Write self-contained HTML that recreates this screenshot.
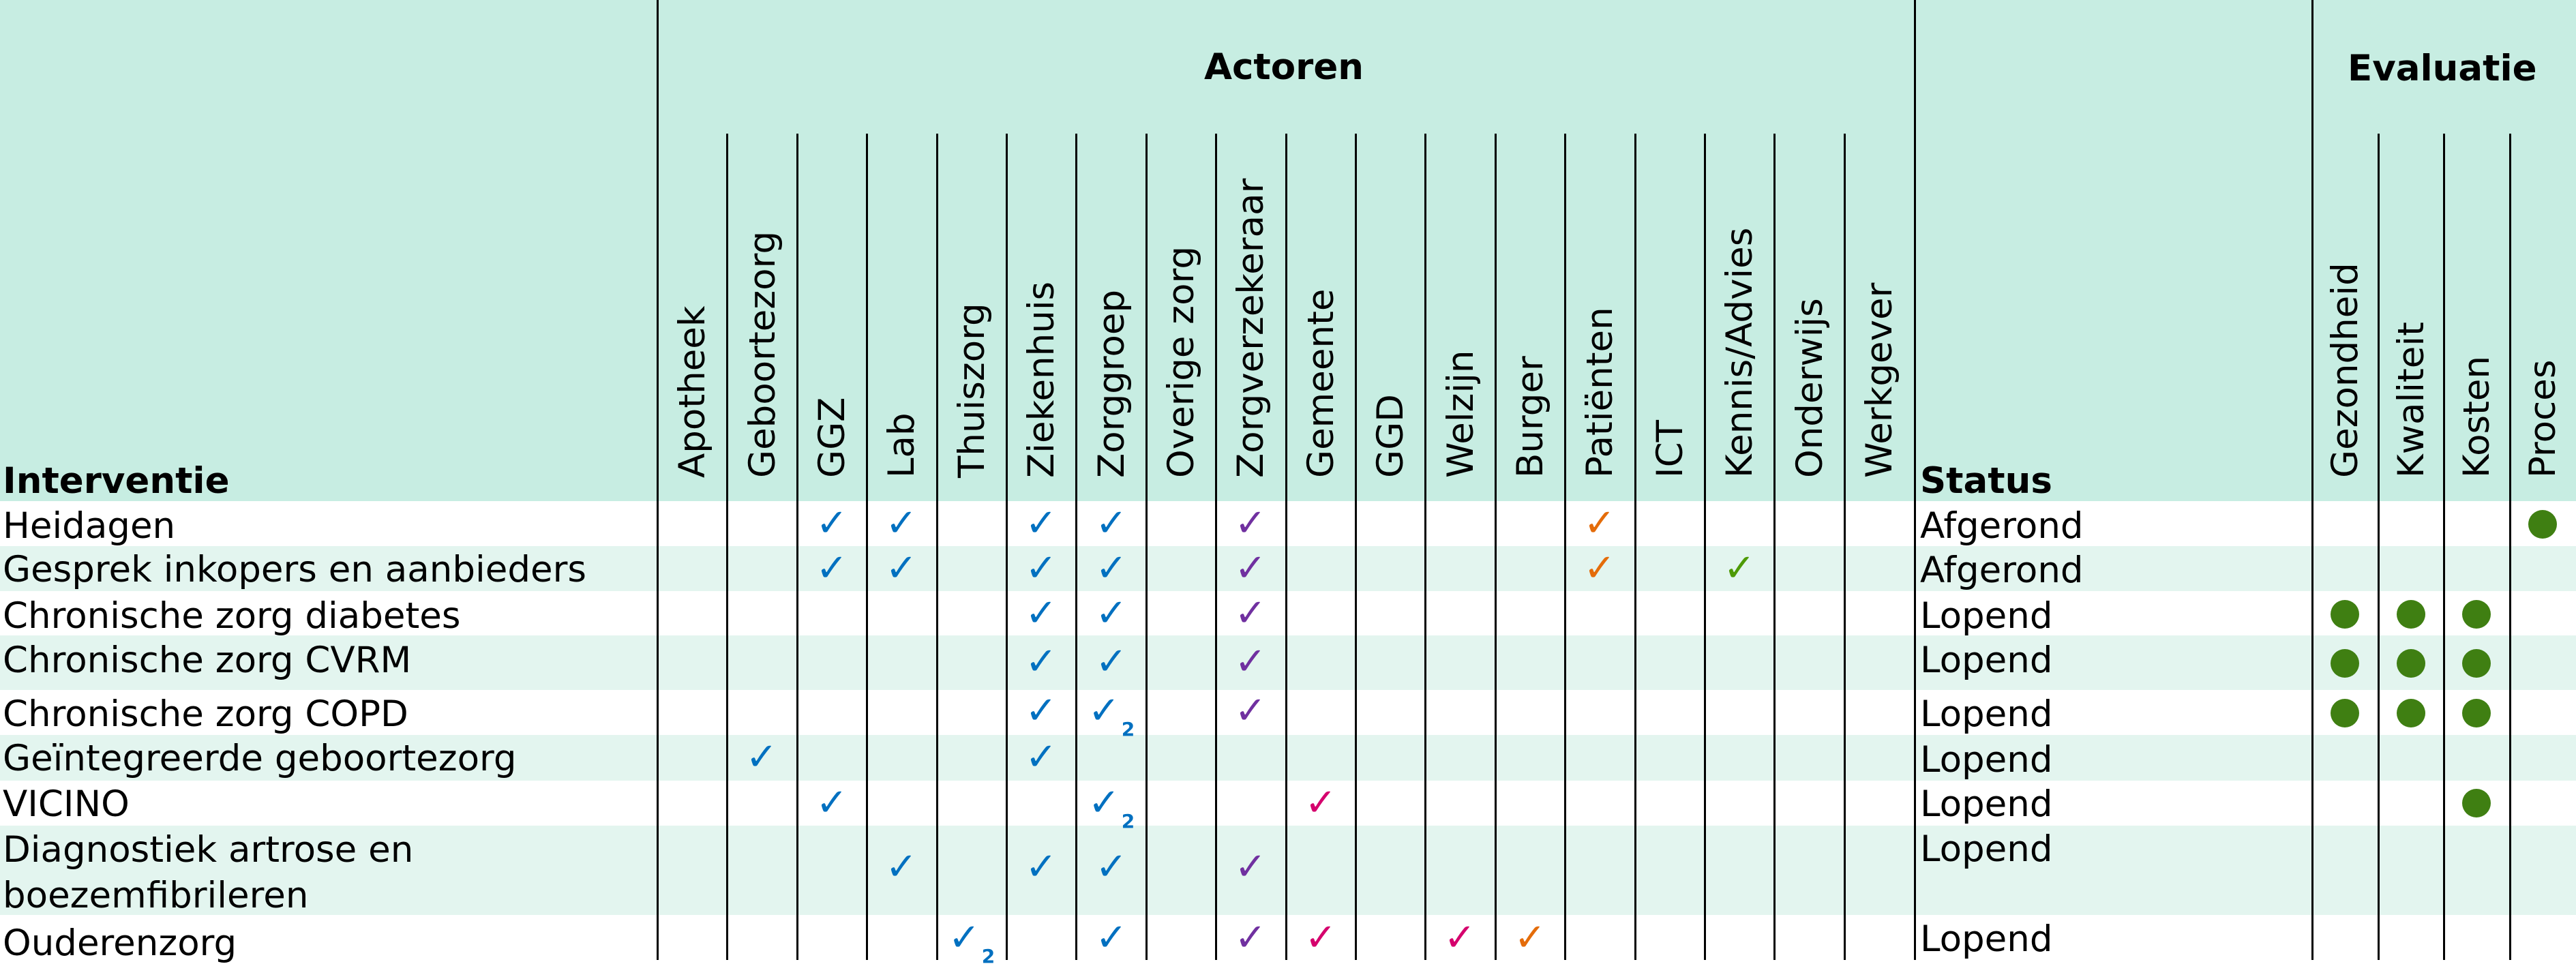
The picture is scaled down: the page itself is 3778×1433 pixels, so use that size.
<!DOCTYPE html>
<html><head><meta charset="utf-8"><style>
html,body{margin:0;padding:0}
body{width:3778px;height:1408px;position:relative;overflow:hidden;background:#fff;font-family:"DejaVu Sans","Liberation Sans",sans-serif;color:#000}
.a{position:absolute}
.t{position:absolute;font-size:53px;line-height:53px;white-space:nowrap}
.b{font-weight:bold}
.vl{position:absolute;width:3px;background:#000}
.r{position:absolute;writing-mode:vertical-rl;transform:rotate(180deg);font-size:53px;line-height:53px;width:53px;height:520px;top:181px;white-space:nowrap;text-align:start}
.c{position:absolute;width:102px;height:60px;line-height:60px;text-align:center;font-size:56px;font-family:"DejaVu Sans",sans-serif;font-weight:bold}
.c b{font-size:28px;vertical-align:-18px;margin-left:2px}
.bl{color:#0070c0}.pu{color:#7030a0}.or{color:#e46c0a}.pk{color:#d5006d}.gr{color:#4e9a06}
.d{position:absolute;width:42px;height:42px;border-radius:50%;background:#3f7f12}
</style></head><body>
<div class="a" style="left:0;top:0;width:3778px;height:735px;background:#c7ede2"></div>
<div class="a" style="left:0;top:801px;width:3778px;height:66px;background:#e3f5ef"></div>
<div class="a" style="left:0;top:932px;width:3778px;height:80px;background:#e3f5ef"></div>
<div class="a" style="left:0;top:1078px;width:3778px;height:67px;background:#e3f5ef"></div>
<div class="a" style="left:0;top:1211px;width:3778px;height:131px;background:#e3f5ef"></div>

<div class="vl" style="left:963px;top:0;height:1408px"></div>
<div class="vl" style="left:2807px;top:0;height:1408px"></div>
<div class="vl" style="left:3390px;top:0;height:1408px"></div>
<div class="vl" style="left:1065px;top:196px;height:1212px"></div>
<div class="vl" style="left:1168px;top:196px;height:1212px"></div>
<div class="vl" style="left:1270px;top:196px;height:1212px"></div>
<div class="vl" style="left:1373px;top:196px;height:1212px"></div>
<div class="vl" style="left:1475px;top:196px;height:1212px"></div>
<div class="vl" style="left:1577px;top:196px;height:1212px"></div>
<div class="vl" style="left:1680px;top:196px;height:1212px"></div>
<div class="vl" style="left:1782px;top:196px;height:1212px"></div>
<div class="vl" style="left:1885px;top:196px;height:1212px"></div>
<div class="vl" style="left:1987px;top:196px;height:1212px"></div>
<div class="vl" style="left:2089px;top:196px;height:1212px"></div>
<div class="vl" style="left:2192px;top:196px;height:1212px"></div>
<div class="vl" style="left:2294px;top:196px;height:1212px"></div>
<div class="vl" style="left:2397px;top:196px;height:1212px"></div>
<div class="vl" style="left:2499px;top:196px;height:1212px"></div>
<div class="vl" style="left:2601px;top:196px;height:1212px"></div>
<div class="vl" style="left:2704px;top:196px;height:1212px"></div>
<div class="vl" style="left:3487px;top:196px;height:1212px"></div>
<div class="vl" style="left:3583px;top:196px;height:1212px"></div>
<div class="vl" style="left:3680px;top:196px;height:1212px"></div>

<div class="t b" style="left:1766px;top:72px">Actoren</div>
<div class="t b" style="left:3443px;top:74px">Evaluatie</div>
<div class="t b" style="left:4px;top:679px">Interventie</div>
<div class="t b" style="left:2816px;top:679px">Status</div>

<div class="r" style="left:989px">Apotheek</div>
<div class="r" style="left:1092px">Geboortezorg</div>
<div class="r" style="left:1194px">GGZ</div>
<div class="r" style="left:1296px">Lab</div>
<div class="r" style="left:1399px">Thuiszorg</div>
<div class="r" style="left:1501px">Ziekenhuis</div>
<div class="r" style="left:1604px">Zorggroep</div>
<div class="r" style="left:1706px">Overige zorg</div>
<div class="r" style="left:1808px">Zorgverzekeraar</div>
<div class="r" style="left:1911px">Gemeente</div>
<div class="r" style="left:2013px">GGD</div>
<div class="r" style="left:2116px">Welzijn</div>
<div class="r" style="left:2218px">Burger</div>
<div class="r" style="left:2320px">Patiënten</div>
<div class="r" style="left:2423px">ICT</div>
<div class="r" style="left:2525px">Kennis/Advies</div>
<div class="r" style="left:2628px">Onderwijs</div>
<div class="r" style="left:2730px">Werkgever</div>
<div class="r" style="left:3413px">Gezondheid</div>
<div class="r" style="left:3510px">Kwaliteit</div>
<div class="r" style="left:3606px">Kosten</div>
<div class="r" style="left:3703px">Proces</div>

<div class="t" style="left:4px;top:745px">Heidagen</div>
<div class="t" style="left:4px;top:809px">Gesprek inkopers en aanbieders</div>
<div class="t" style="left:4px;top:877px">Chronische zorg diabetes</div>
<div class="t" style="left:4px;top:942px">Chronische zorg CVRM</div>
<div class="t" style="left:4px;top:1021px">Chronische zorg COPD</div>
<div class="t" style="left:4px;top:1086px">Geïntegreerde geboortezorg</div>
<div class="t" style="left:4px;top:1153px">VICINO</div>
<div class="t" style="left:4px;top:1220px">Diagnostiek artrose en</div>
<div class="t" style="left:4px;top:1287px">boezemfibrileren</div>
<div class="t" style="left:4px;top:1357px">Ouderenzorg</div>

<div class="t" style="left:2816px;top:745px">Afgerond</div>
<div class="t" style="left:2816px;top:810px">Afgerond</div>
<div class="t" style="left:2816px;top:877px">Lopend</div>
<div class="t" style="left:2816px;top:942px">Lopend</div>
<div class="t" style="left:2816px;top:1021px">Lopend</div>
<div class="t" style="left:2816px;top:1088px">Lopend</div>
<div class="t" style="left:2816px;top:1153px">Lopend</div>
<div class="t" style="left:2816px;top:1219px">Lopend</div>
<div class="t" style="left:2816px;top:1351px">Lopend</div>

<div class="c bl" style="left:1169px;top:738px">✓</div>
<div class="c bl" style="left:1271px;top:738px">✓</div>
<div class="c bl" style="left:1476px;top:738px">✓</div>
<div class="c bl" style="left:1579px;top:738px">✓</div>
<div class="c pu" style="left:1783px;top:738px">✓</div>
<div class="c or" style="left:2295px;top:738px">✓</div>

<div class="c bl" style="left:1169px;top:804px">✓</div>
<div class="c bl" style="left:1271px;top:804px">✓</div>
<div class="c bl" style="left:1476px;top:804px">✓</div>
<div class="c bl" style="left:1579px;top:804px">✓</div>
<div class="c pu" style="left:1783px;top:804px">✓</div>
<div class="c or" style="left:2295px;top:804px">✓</div>
<div class="c gr" style="left:2500px;top:804px">✓</div>

<div class="c bl" style="left:1476px;top:870px">✓</div>
<div class="c bl" style="left:1579px;top:870px">✓</div>
<div class="c pu" style="left:1783px;top:870px">✓</div>

<div class="c bl" style="left:1476px;top:941px">✓</div>
<div class="c bl" style="left:1579px;top:941px">✓</div>
<div class="c pu" style="left:1783px;top:941px">✓</div>

<div class="c bl" style="left:1476px;top:1013px">✓</div>
<div class="c bl" style="left:1579px;top:1013px">✓<b>2</b></div>
<div class="c pu" style="left:1783px;top:1013px">✓</div>

<div class="c bl" style="left:1066px;top:1081px">✓</div>
<div class="c bl" style="left:1476px;top:1081px">✓</div>

<div class="c bl" style="left:1169px;top:1148px">✓</div>
<div class="c bl" style="left:1579px;top:1148px">✓<b>2</b></div>
<div class="c pk" style="left:1886px;top:1148px">✓</div>

<div class="c bl" style="left:1271px;top:1242px">✓</div>
<div class="c bl" style="left:1476px;top:1242px">✓</div>
<div class="c bl" style="left:1579px;top:1242px">✓</div>
<div class="c pu" style="left:1783px;top:1242px">✓</div>

<div class="c bl" style="left:1374px;top:1346px">✓<b>2</b></div>
<div class="c bl" style="left:1579px;top:1346px">✓</div>
<div class="c pu" style="left:1783px;top:1346px">✓</div>
<div class="c pk" style="left:1886px;top:1346px">✓</div>
<div class="c pk" style="left:2090px;top:1346px">✓</div>
<div class="c or" style="left:2193px;top:1346px">✓</div>

<div class="d" style="left:3708px;top:748px"></div>
<div class="d" style="left:3418px;top:880px"></div>
<div class="d" style="left:3515px;top:880px"></div>
<div class="d" style="left:3611px;top:880px"></div>
<div class="d" style="left:3418px;top:952px"></div>
<div class="d" style="left:3515px;top:952px"></div>
<div class="d" style="left:3611px;top:952px"></div>
<div class="d" style="left:3418px;top:1025px"></div>
<div class="d" style="left:3515px;top:1025px"></div>
<div class="d" style="left:3611px;top:1025px"></div>
<div class="d" style="left:3611px;top:1157px"></div>
</body></html>
